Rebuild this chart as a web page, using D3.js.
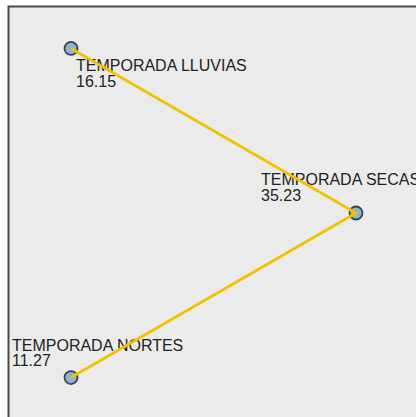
<!DOCTYPE html>
<html>
<head>
<meta charset="utf-8">
<script src="https://cdn.jsdelivr.net/npm/d3@7"></script>
<style>
    body { margin: 0; background: #fff; }
    svg { display: block; }
</style>
</head>
<body>
<div id="chart"></div>
<script>
// Seasons and their values
const seasons = ['TEMPORADA LLUVIAS', 'TEMPORADA SECAS', 'TEMPORADA NORTES'];
const values = [16.15, 35.23, 11.27];
// label offsets relative to each node (dx, dy of first line)
const labelDx = [5, -95, -59];
const labelDy = [23, -28, -27];

const width = 416, height = 417;

let svg = d3.select('#chart').append('svg')
    .attr('width', width)
    .attr('height', height);

// frame
svg.append('rect')
    .attr('x', 8.5)
    .attr('y', 6.5)
    .attr('width', width + 20)
    .attr('height', height + 20)
    .attr('fill', '#ebebeb')
    .attr('stroke', '#4a4a4a')
    .attr('stroke-width', 2);

// radial layout: nodes spread evenly around a circle
let cx = 166, cy = 213, r = 190;
let angle = d3.scaleLinear()
    .domain([0, seasons.length])
    .range([-2 * Math.PI / 3, 4 * Math.PI / 3]);

let nodes = seasons.map((s, i) => ({
    name: s,
    value: values[i],
    x: cx + r * Math.cos(angle(i)),
    y: cy + r * Math.sin(angle(i)),
    dx: labelDx[i],
    dy: labelDy[i]
}));

svg.selectAll('.node')
    .data(nodes)
    .enter().append('circle')
    .attr('class', 'node')
    .attr('cx', d => d.x)
    .attr('cy', d => d.y)
    .attr('r', 6.5)
    .attr('fill', '#8ab4d2')
    .attr('stroke', '#3d4348')
    .attr('stroke-width', 1.8);

let labels = svg.selectAll('.label')
    .data(nodes)
    .enter().append('text')
    .attr('class', 'label')
    .attr('font-family', 'Liberation Sans, Arial, sans-serif')
    .attr('font-size', 16)
    .attr('fill', '#222');

labels.append('tspan')
    .attr('x', d => d.x + d.dx)
    .attr('y', d => d.y + d.dy)
    .text(d => d.name);

labels.append('tspan')
    .attr('x', d => d.x + d.dx)
    .attr('y', d => d.y + d.dy + 15.5)
    .text(d => d.value.toFixed(2));

let line = d3.line()
    .x(d => d.x)
    .y(d => d.y);

svg.append('path')
    .datum(nodes)
    .attr('d', line)
    .attr('fill', 'none')
    .attr('stroke', '#f2c200')
    .attr('stroke-width', 2.8);
</script>
</body>
</html>
